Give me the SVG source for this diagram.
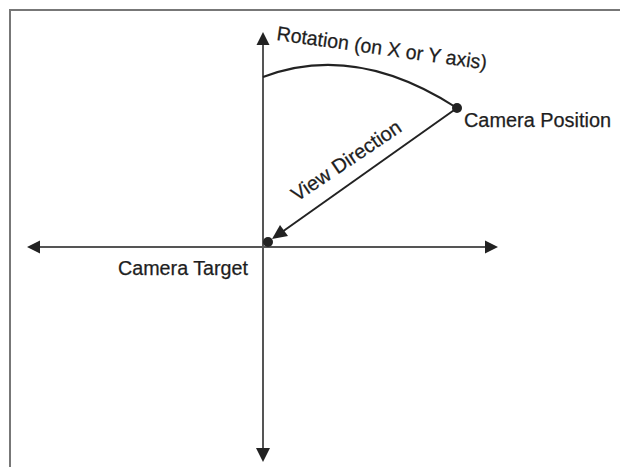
<svg xmlns="http://www.w3.org/2000/svg" width="620" height="467" viewBox="0 0 620 467">
  <style>
    .lbl { font-family: "Liberation Sans", Arial, sans-serif; font-size: 20px; fill: #1e1e1e; stroke: #1e1e1e; stroke-width: 0.25; }
    .axis { stroke: #555; stroke-width: 2; fill: none; }
    .border { stroke: #777; stroke-width: 2; fill: none; }
    .dark { stroke: #222; stroke-width: 2; fill: none; }
    .head { fill: #222; }
  </style>
  <rect width="620" height="467" fill="#fff"/>
  <path class="border" d="M10,467 V10 H620"/>
  <g id="connectors">
    <line class="axis" x1="263" y1="42" x2="263" y2="450"/>
    <polygon class="head" points="263,32 256.5,45 269.5,45"/>
    <polygon class="head" points="263,462 256,448 270,448"/>
    <line class="axis" x1="38" y1="247" x2="487" y2="247"/>
    <polygon class="head" points="27,247 40,240.5 40,253.5"/>
    <polygon class="head" points="498,247 485,240.5 485,253.5"/>
    <path class="dark" d="M263,77 Q355,42 457,108"/>
    <line class="dark" x1="457" y1="108" x2="282" y2="232"/>
    <polygon class="head" points="272,239 280,225 288,236"/>
  </g>
  <g id="camera-position">
    <circle cx="457" cy="108" r="5" fill="#222"/>
    <text class="lbl" x="464" y="127" textLength="147" lengthAdjust="spacingAndGlyphs">Camera Position</text>
  </g>
  <g id="camera-target">
    <circle cx="268" cy="242" r="5" fill="#222"/>
    <text class="lbl" x="118" y="275" textLength="130" lengthAdjust="spacingAndGlyphs">Camera Target</text>
  </g>
  <g id="labels">
    <text class="lbl" transform="translate(276,40) rotate(8)" textLength="212" lengthAdjust="spacingAndGlyphs">Rotation (on X or Y axis)</text>
    <text class="lbl" transform="translate(297,202) rotate(-34)" textLength="128" lengthAdjust="spacingAndGlyphs">View Direction</text>
  </g>
</svg>
